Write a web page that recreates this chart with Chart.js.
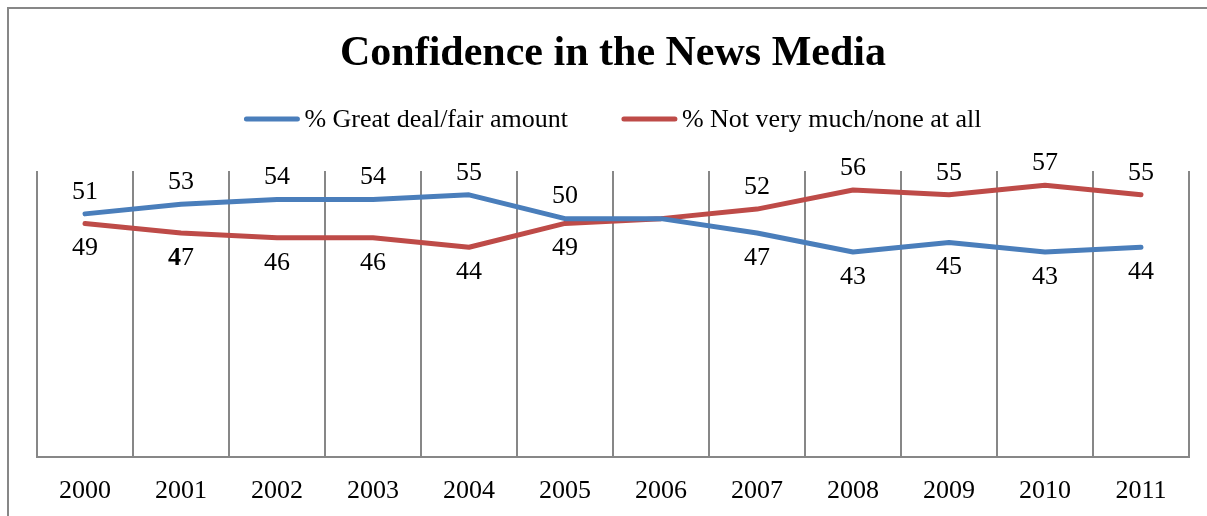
<!DOCTYPE html>
<html>
<head>
<meta charset="utf-8">
<title>Confidence in the News Media</title>
<script src="https://cdn.jsdelivr.net/npm/chart.js@4.4.0/dist/chart.umd.min.js"></script>
<style>
  html, body { margin: 0; padding: 0; background: #fff; }
  #wrap { position: relative; width: 1207px; height: 516px; }
  #wrap canvas { display: block; }
</style>
</head>
<body>
<div id="wrap"><canvas id="newsChart"></canvas></div>
<script>
// confidence in the news media, yearly trend 2000-2011
const years = ['2000', '2001', '2002', '2003', '2004', '2005', '2006', '2007', '2008', '2009', '2010', '2011'];
const greatDeal = [51, 53, 54, 54, 55, 50, 50, 47, 43, 45, 43, 44];
const notMuch = [49, 47, 46, 46, 44, 49, 50, 52, 56, 55, 57, 55];
// no value printed for 2006
const unlabeled = [6];

const serif = '"Liberation Serif", "Times New Roman", serif';
const gray = '#878787';

// outer box around the whole chart
const frame = {
    id: 'frame',
    beforeDraw(chart){
        const ctx = chart.ctx;
        ctx.save();
        ctx.strokeStyle = gray;
        ctx.lineWidth = 2;
        ctx.strokeRect(8, 8, chart.width + 20, chart.height + 20);
        ctx.restore();
    }
};

// legend with short line swatches, centred over the plot
const lineLegend = {
    id: 'lineLegend',
    afterDraw(chart, args, opts){
        const ctx = chart.ctx;
        const area = chart.chartArea;
        ctx.save();
        ctx.font = opts.size + 'px ' + serif;
        const items = chart.data.datasets.map(ds => ({
            text: ds.label,
            color: ds.borderColor,
            w: ctx.measureText(ds.label).width
        }));
        const total = items.reduce((s, it) => s + opts.swatch + opts.gap + it.w, 0) + opts.spacing * (items.length - 1);
        let x = (area.left + area.right) / 2 - total / 2;
        const y = area.top - opts.above;
        ctx.textBaseline = 'middle';
        ctx.lineCap = 'round';
        ctx.lineWidth = 5;
        items.forEach(it => {
            ctx.strokeStyle = it.color;
            ctx.beginPath();
            ctx.moveTo(x + 2, y);
            ctx.lineTo(x + opts.swatch - 2, y);
            ctx.stroke();
            x += opts.swatch + opts.gap;
            ctx.fillStyle = '#000';
            ctx.fillText(it.text, x, y + 1);
            x += it.w + opts.spacing;
        });
        ctx.restore();
    }
};

// value labels: the upper series gets its label above, the lower one below
const valueLabels = {
    id: 'valueLabels',
    afterDatasetsDraw(chart, args, opts){
        const ctx = chart.ctx;
        const sets = chart.data.datasets;
        const normal = opts.size + 'px ' + serif;
        const bold = 'bold ' + normal;
        ctx.save();
        ctx.fillStyle = '#000';
        ctx.textBaseline = 'middle';
        sets.forEach((ds, i) => {
            const other = sets[1 - i].data;
            chart.getDatasetMeta(i).data.forEach((pt, j) => {
                if (unlabeled.includes(j)) return;
                const v = ds.data[j];
                const y = v >= other[j] ? pt.y - opts.above : pt.y + opts.below;
                const text = String(v);
                if (opts.boldLead.some(p => p[0] === i && p[1] === j)) {
                    // first digit set in bold
                    ctx.font = bold;
                    const w1 = ctx.measureText(text[0]).width;
                    ctx.font = normal;
                    const w2 = ctx.measureText(text.slice(1)).width;
                    let x = pt.x - (w1 + w2) / 2;
                    ctx.textAlign = 'left';
                    ctx.font = bold;
                    ctx.fillText(text[0], x, y);
                    ctx.font = normal;
                    ctx.fillText(text.slice(1), x + w1, y);
                } else {
                    ctx.font = normal;
                    ctx.textAlign = 'center';
                    ctx.fillText(text, pt.x, y);
                }
            });
        });
        ctx.restore();
    }
};

new Chart(document.getElementById('newsChart'), {
    type: 'line',
    data: {
        labels: years,
        datasets: [{
            label: '% Great deal/fair amount',
            data: greatDeal,
            borderColor: '#4A7EBB',
            backgroundColor: '#4A7EBB'
        }, {
            label: '% Not very much/none at all',
            data: notMuch,
            borderColor: '#BE4B48',
            backgroundColor: '#BE4B48'
        }]
    },
    options: {
        responsive: true,
        maintainAspectRatio: false,
        animation: false,
        layout: {
            padding: { left: 37, right: 18, top: 0, bottom: -10 }
        },
        elements: {
            line: { borderWidth: 5, tension: 0, borderCapStyle: 'round', borderJoinStyle: 'round' },
            point: { radius: 0, hoverRadius: 0 }
        },
        plugins: {
            legend: { display: false },
            tooltip: { enabled: false },
            title: {
                display: true,
                text: 'Confidence in the News Media',
                color: '#000',
                font: { family: serif, size: 42, weight: 'bold' },
                padding: { top: 29, bottom: 91.6 }
            },
            lineLegend: { size: 26, swatch: 55, gap: 5, spacing: 54, above: 52 },
            valueLabels: { size: 26, above: 22, below: 25, boldLead: [[1, 1]] }
        },
        scales: {
            x: {
                offset: true,
                grid: { offset: true, color: gray, lineWidth: 2, drawTicks: false },
                border: { color: gray, width: 2 },
                ticks: {
                    color: '#000',
                    font: { family: serif, size: 26 },
                    padding: 19,
                    maxRotation: 0,
                    autoSkip: false
                }
            },
            y: { display: false, min: 0, max: 60 }
        }
    },
    plugins: [frame, lineLegend, valueLabels]
});
</script>
</body>
</html>
